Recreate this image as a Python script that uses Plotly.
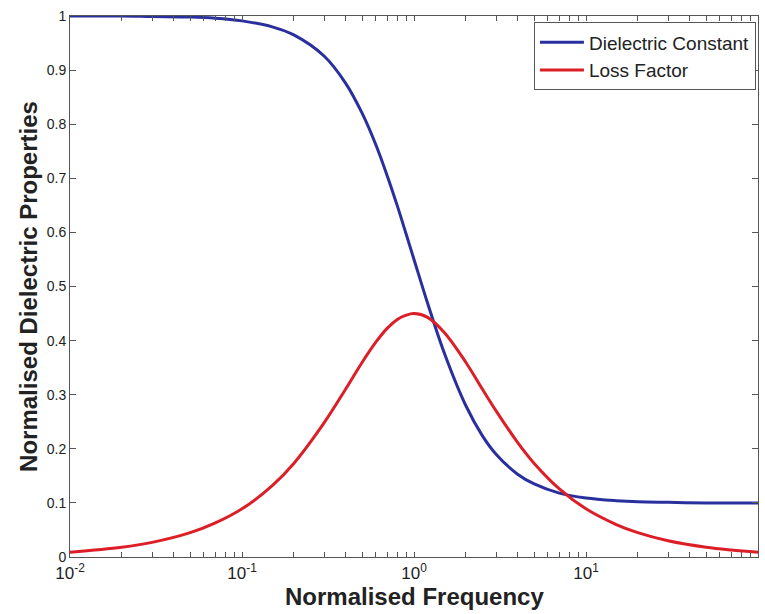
import plotly.graph_objects as go

# Normalised frequency
freq = [0.01, 0.02, 0.03, 0.05, 0.07, 0.1, 0.15, 0.2, 0.3, 0.4, 0.5, 0.6, 0.7,
        0.8, 0.9, 1.0, 1.2, 1.5, 2.0, 2.5, 3.0, 4.0, 5.0, 7.0, 10.0, 15.0, 20.0,
        30.0, 50.0, 70.0, 100.0]

# Dielectric constant (blue)
dielectric_constant = [1.000, 1.000, 0.999, 0.998, 0.996, 0.991, 0.980, 0.965,
                       0.926, 0.876, 0.820, 0.762, 0.704, 0.649, 0.597, 0.550,
                       0.469, 0.377, 0.280, 0.224, 0.190, 0.153, 0.135, 0.118,
                       0.109, 0.104, 0.102, 0.101, 0.100, 0.100, 0.100]

# Loss factor (red)
loss_factor = [0.009, 0.018, 0.027, 0.045, 0.063, 0.089, 0.132, 0.173, 0.248,
               0.310, 0.360, 0.397, 0.423, 0.439, 0.447, 0.450, 0.443, 0.415,
               0.360, 0.310, 0.270, 0.212, 0.173, 0.126, 0.089, 0.060, 0.045,
               0.030, 0.018, 0.013, 0.009]

# Major (labelled) and minor (unlabelled) log ticks
x_major_vals = [0.01, 0.1, 1, 10, 100]
x_major_text = ["10<sup>-2</sup>", "10<sup>-1</sup>", "10<sup>0</sup>", "10<sup>1</sup>", "10<sup>2</sup>"]
x_minor_mult = [2, 3, 4, 5, 6, 7, 8, 9]
y_tickvals = [0, 0.1, 0.2, 0.3, 0.4, 0.5, 0.6, 0.7, 0.8, 0.9, 1]
y_ticktext = ["0", "0.1", "0.2", "0.3", "0.4", "0.5", "0.6", "0.7", "0.8", "0.9", "1"]
x_title = "Normalised Frequency"
y_title = "Normalised Dielectric Properties"

x_tickvals = list(x_major_vals)
x_ticktext = list(x_major_text)
for d in x_major_vals[:-1]:
    for m in x_minor_mult:
        x_tickvals.append(m * d)
        x_ticktext.append(" ")

fig = go.Figure()
fig.add_trace(go.Scatter(x=freq, y=dielectric_constant, mode="lines",
                         name="Dielectric Constant", line=dict(color="#2a2f9e", width=3, shape="spline")))
fig.add_trace(go.Scatter(x=freq, y=loss_factor, mode="lines",
                         name="Loss Factor", line=dict(color="#dc1f26", width=3, shape="spline")))

fam = "Liberation Sans, Arial, sans-serif"
fig.update_layout(
    width=765, height=614,
    margin=dict(l=70, r=7, t=16, b=57),
    paper_bgcolor="white", plot_bgcolor="white",
    font=dict(family=fam, color="#222"),
    showlegend=True,
    legend=dict(x=0.997, y=0.988, xanchor="right", yanchor="top",
                bgcolor="white", bordercolor="#555", borderwidth=1,
                font=dict(size=19, family=fam, color="#222"),
                itemwidth=44, tracegroupgap=0),
    xaxis=dict(type="log", range=[-2, 2], tickmode="array", tickvals=x_tickvals, ticktext=x_ticktext,
               ticks="inside", ticklen=5, tickcolor="#555", showline=True, linecolor="#555",
               linewidth=1, mirror="ticks", showgrid=False, zeroline=False,
               tickfont=dict(family=fam, size=17, color="#222"), ticklabelstandoff=1),
    yaxis=dict(range=[0, 1], tickvals=y_tickvals, ticktext=y_ticktext,
               ticks="inside", ticklen=6, tickcolor="#555", showline=True, linecolor="#555",
               linewidth=1, mirror="ticks", showgrid=False, zeroline=False,
               tickfont=dict(family=fam, size=14, color="#222"),
               title=dict(text="<b>" + y_title + "</b>", font=dict(size=24), standoff=2)),
    annotations=[dict(text="<b>" + x_title + "</b>", xref="paper", yref="paper",
                      x=0.5, y=-0.073, xanchor="center", yanchor="middle", showarrow=False,
                      font=dict(size=24, family=fam, color="#222"))],
)

fig.write_html("out.html")
